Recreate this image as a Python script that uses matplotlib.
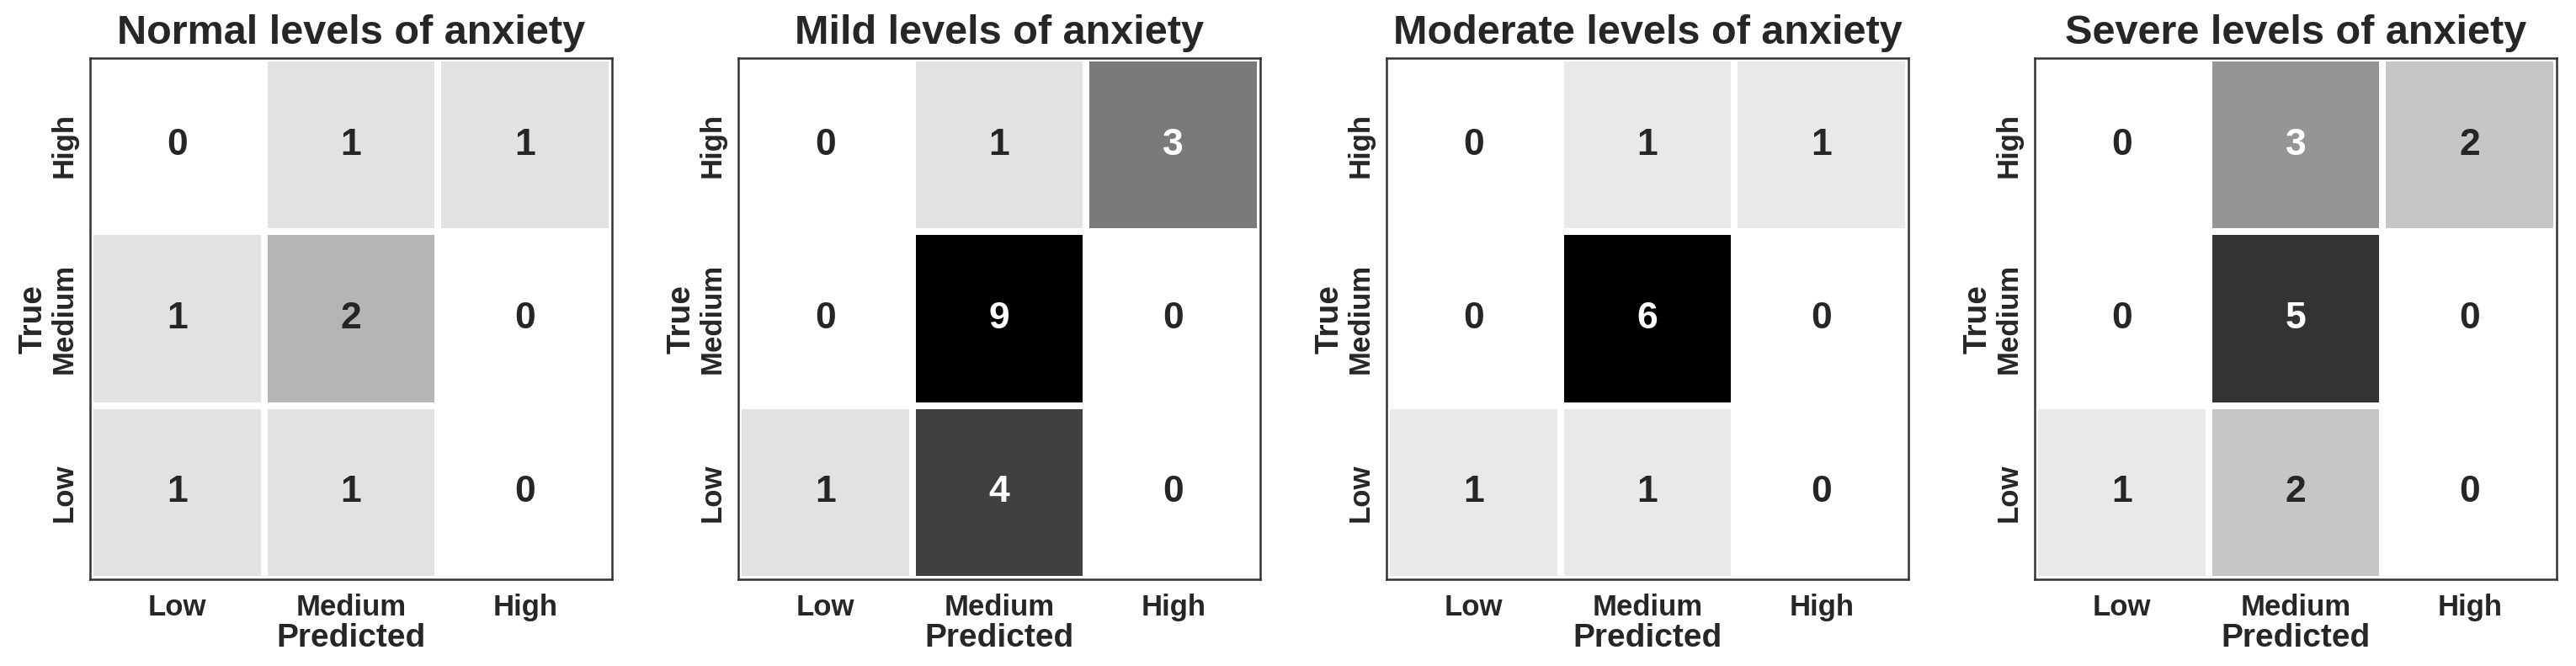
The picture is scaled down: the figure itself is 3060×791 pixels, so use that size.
import numpy as np
import matplotlib
matplotlib.use("Agg")
import matplotlib.pyplot as plt
from matplotlib import colormaps
from matplotlib.colors import Normalize, to_rgb

# ---- data ----
titles = ["Normal levels of anxiety", "Mild levels of anxiety",
          "Moderate levels of anxiety", "Severe levels of anxiety"]
pred_labels = ["Low", "Medium", "High"]          # columns, left -> right
true_labels = ["High", "Medium", "Low"]          # rows, top -> bottom
normal = [[0, 1, 1], [1, 2, 0], [1, 1, 0]]
mild = [[0, 1, 3], [0, 9, 0], [1, 4, 0]]
moderate = [[0, 1, 1], [0, 6, 0], [1, 1, 0]]
severe = [[0, 3, 2], [0, 5, 0], [1, 2, 0]]
matrices = [normal, mild, moderate, severe]
color_max = [5, 5, 6, 6]   # colour-scale upper limit of each panel

# ---- style ----
plt.rcParams['font.family'] = ['Liberation Sans', 'DejaVu Sans']
plt.rcParams['font.weight'] = 'bold'
TXT = '#262626'
cmap = colormaps['Greys']

W, H, DPI = 3060, 791, 100
fig = plt.figure(figsize=(W / DPI, H / DPI), dpi=DPI)

left0, step, width = 107 / W, 770 / W, 620 / W
bottom, height = (H - 688) / H, 619 / H


def lum(c):
    rgb = np.array(to_rgb(c))
    rgb = np.where(rgb <= 0.03928, rgb / 12.92, ((rgb + 0.055) / 1.055) ** 2.4)
    return 0.2126 * rgb[0] + 0.7152 * rgb[1] + 0.0722 * rgb[2]


for i, (title, mat, vmax) in enumerate(zip(titles, matrices, color_max)):
    data = np.array(mat, dtype=float)
    ax = fig.add_axes([left0 + i * step, bottom, width, height])
    norm = Normalize(vmin=0, vmax=vmax)
    ax.pcolormesh(np.arange(4), np.arange(4), data, cmap=cmap, norm=norm,
                  edgecolors='white', linewidth=4.5)
    ax.set_xlim(0, 3)
    ax.set_ylim(3, 0)
    for r in range(3):
        for c in range(3):
            col = cmap(norm(data[r, c]))
            tc = TXT if lum(col) > 0.408 else 'white'
            ax.text(c + 0.5, r + 0.5, f"{int(data[r, c])}", ha='center', va='center',
                    fontsize=32, fontweight='bold', color=tc)
    ax.set_xticks(np.arange(3) + 0.5)
    ax.set_xticklabels(pred_labels, fontsize=25, fontweight='bold', color=TXT)
    ax.set_yticks(np.arange(3) + 0.5)
    ax.set_yticklabels(true_labels, fontsize=25, fontweight='bold', color=TXT,
                       rotation=90, va='center')
    ax.tick_params(length=0, pad=12)
    ax.tick_params(axis='y', pad=10)
    ax.set_xlabel("Predicted", fontsize=28, fontweight='bold', color=TXT, labelpad=2)
    ax.set_ylabel("True", fontsize=28, fontweight='bold', color=TXT, labelpad=2)
    ax.set_title(title, fontsize=35, fontweight='bold', color=TXT, pad=12)
    for sp in ax.spines.values():
        sp.set_visible(True)
        sp.set_color('#333333')
        sp.set_linewidth(1.8)

fig.savefig("out.png", dpi=DPI, facecolor='white')
